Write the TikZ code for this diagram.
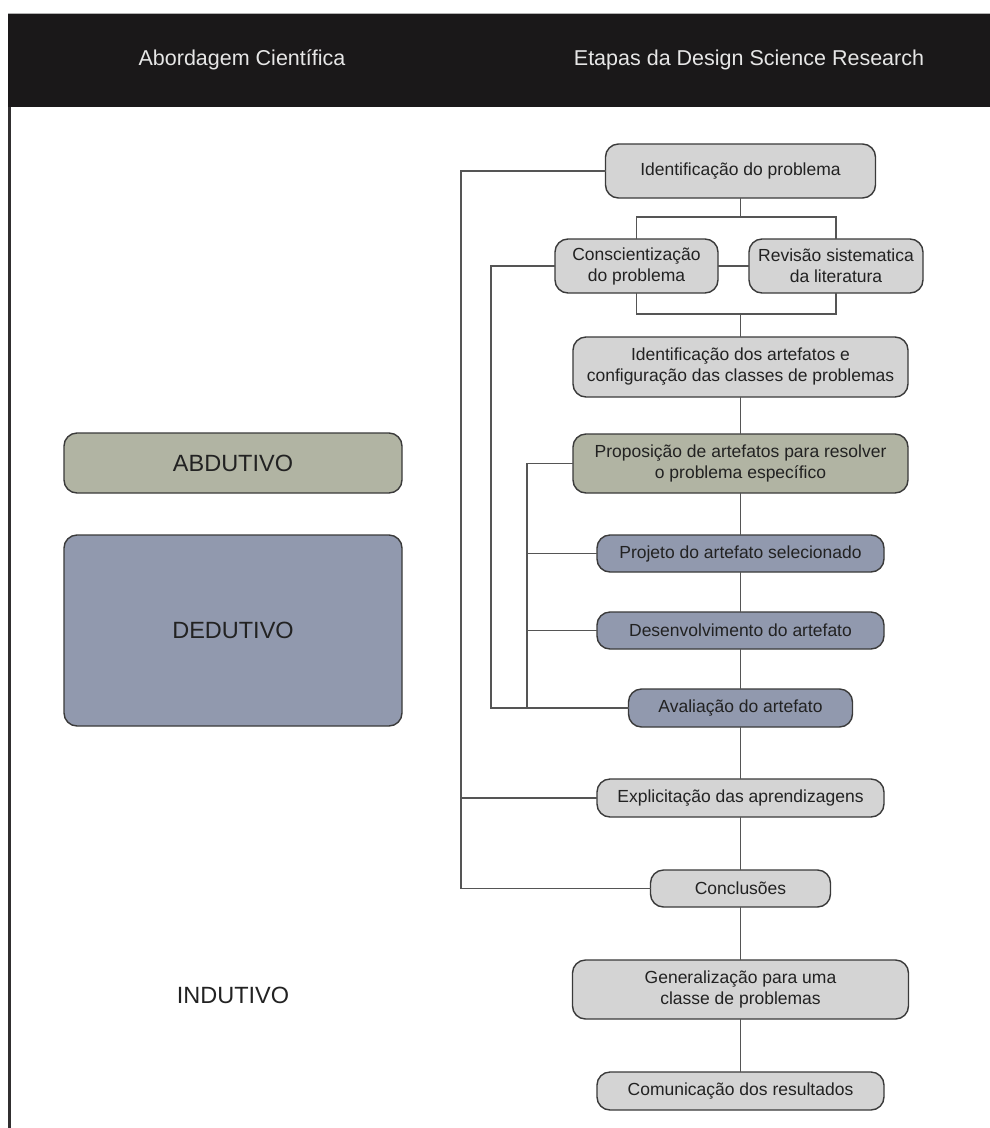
\documentclass[tikz,border=0pt]{standalone}
\usepackage{fontspec}
\setmainfont{Liberation Sans}
\begin{document}
\begin{tikzpicture}[x=1pt,y=-1pt,
  every node/.style={inner sep=0pt,outer sep=0pt},
  stepbox/.style={draw=boxline,line width=1.4pt,rounded corners=13pt,
    fill=stepgray,align=center,text=txt,
    font=\fontsize{17.5}{21}\selectfont},
  greenbox/.style={stepbox,fill=abdgreen},
  bluebox/.style={stepbox,fill=dedblue},
  bigbox/.style={stepbox,minimum width=338pt,font=\fontsize{23.5}{27}\selectfont},
  link/.style={draw=linkgray,line width=1.4pt},
  headtext/.style={text=headfg,font=\fontsize{21.5}{25}\selectfont},
  approach/.style={text=txt,font=\fontsize{23.5}{27}\selectfont}
]
\definecolor{stepgray}{HTML}{D4D4D4}
\definecolor{abdgreen}{HTML}{B1B4A3}
\definecolor{dedblue}{HTML}{9199AE}
\definecolor{boxline}{HTML}{3A3A3A}
\definecolor{linkgray}{HTML}{555555}
\definecolor{txt}{HTML}{222222}
\definecolor{headfg}{HTML}{E6E6E6}
\definecolor{band}{HTML}{1A1819}

\useasboundingbox (0,0) rectangle (990,1128);
\fill[white] (0,0) rectangle (990,1128);

% header band and left rule
\fill[band] (8,13) rectangle (990,107);
\draw[line width=0.8pt,color=gray!60] (8,13.4) -- (990,13.4);
\draw[line width=3pt,color=band!90!white] (9.5,107) -- (9.5,1128);
\node[headtext] (h1) at (242,60) {Abordagem Científica};
\node[headtext] (h2) at (749,60) {Etapas da Design Science Research};

% approaches
\node[bigbox,fill=abdgreen,minimum height=60pt] (abd) at (233,463) {ABDUTIVO};
\node[bigbox,fill=dedblue,minimum height=191pt] (ded) at (233,630.5) {DEDUTIVO};
\node[approach] (ind) at (233,995) {INDUTIVO};

% steps
\node[stepbox,minimum width=270pt,minimum height=54pt] (idp) at (740.5,171) {Identificação do problema};
\node[stepbox,minimum width=163pt,minimum height=54pt] (consc) at (636.5,266) {Conscientização\\do problema};
\node[stepbox,minimum width=174pt,minimum height=54pt] (rev) at (836,266) {Revisão sistematica\\da literatura};
\node[stepbox,minimum width=335pt,minimum height=60pt] (ida) at (740.5,367) {Identificação dos artefatos e\\configuração das classes de problemas};
\node[greenbox,minimum width=335pt,minimum height=59pt] (prop) at (740.5,463.5) {Proposição de artefatos para resolver\\o problema específico};
\node[bluebox,minimum width=287pt,minimum height=37pt] (proj) at (740.5,553.5) {Projeto do artefato selecionado};
\node[bluebox,minimum width=287pt,minimum height=37pt] (desenv) at (740.5,630.5) {Desenvolvimento do artefato};
\node[bluebox,minimum width=224pt,minimum height=38pt] (aval) at (740.5,708) {Avaliação do artefato};
\node[stepbox,minimum width=287pt,minimum height=38pt] (expl) at (740.5,798) {Explicitação das aprendizagens};
\node[stepbox,minimum width=180pt,minimum height=37pt] (concl) at (740.5,888.5) {Conclusões};
\node[stepbox,minimum width=336pt,minimum height=59pt] (gen) at (740.5,989.5) {Generalização para uma\\classe de problemas};
\node[stepbox,minimum width=287pt,minimum height=38pt] (comm) at (740.5,1091) {Comunicação dos resultados};

% bus and junction points
\coordinate (busA) at (461,0);
\coordinate (busB) at (491,0);
\coordinate (busC) at (527,0);
\coordinate (fork) at (740.5,217);
\coordinate (join) at (740.5,314);

% main chain
\draw[link] (idp.south) -- (fork);
\draw[link] (consc.north) |- (fork) -| (rev.north);
\draw[link] (consc.east) -- (rev.west);
\draw[link] (consc.south) |- (join) -| (rev.south);
\draw[link] (join) -- (ida.north);
\draw[link] (ida.south) -- (prop.north);
\draw[link] (prop.south) -- (proj.north);
\draw[link] (proj.south) -- (desenv.north);
\draw[link] (desenv.south) -- (aval.north);
\draw[link] (aval.south) -- (expl.north);
\draw[link] (expl.south) -- (concl.north);
\draw[link] (concl.south) -- (gen.north);
\draw[link] (gen.south) -- (comm.north);

% outer feedback loop
\draw[link] (idp.west) -- (idp.west -| busA) |- (concl.west);
\draw[link] (expl.west) -- (expl.west -| busA);

% awareness loop
\draw[link] (consc.west) -- (consc.west -| busB) |- (aval.west);

% design cycle loop
\draw[link] (prop.west) -- (prop.west -| busC) -- (aval.west -| busC);
\draw[link] (proj.west) -- (proj.west -| busC);
\draw[link] (desenv.west) -- (desenv.west -| busC);
\end{tikzpicture}
\end{document}
